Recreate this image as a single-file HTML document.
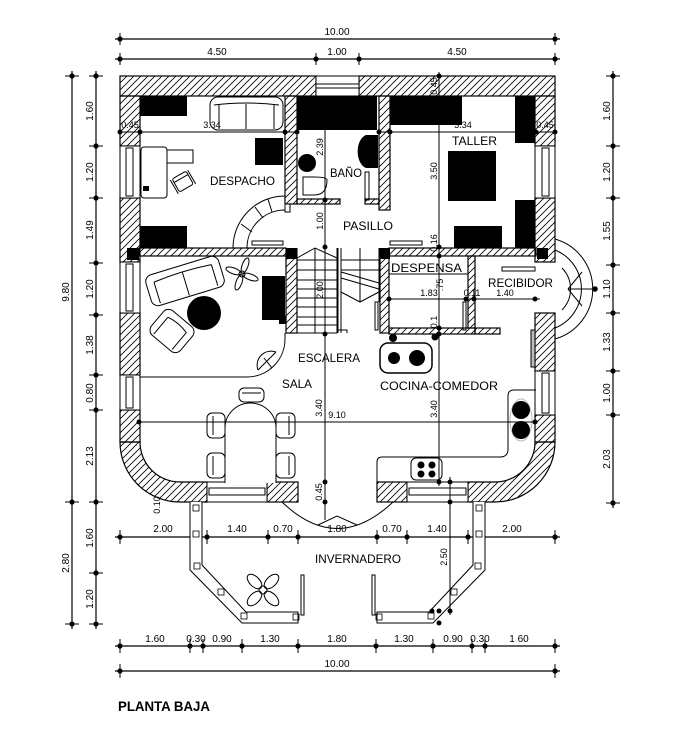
<!DOCTYPE html>
<html><head><meta charset="utf-8"><style>
html,body{margin:0;padding:0;background:#fff;}
svg{display:block;}
text{font-family:"Liberation Sans",sans-serif;fill:#000;}
.d{font-size:10px;}
.r{font-size:12px;}
</style></head><body>
<svg width="700" height="747" viewBox="0 0 700 747" xmlns="http://www.w3.org/2000/svg">
<defs>
<pattern id="h" patternUnits="userSpaceOnUse" width="7" height="7">
<path d="M-1,8 L8,-1 M-1,1 L1,-1 M6,8 L8,6" stroke="#000" stroke-width="0.8"/>
</pattern>
</defs>
<rect width="700" height="747" fill="#fff"/>

<!-- ============ DIMENSIONS ============ -->
<g stroke="#000" stroke-width="1.2" fill="none">
<line x1="115" y1="39" x2="560" y2="39"/>
<line x1="115" y1="59" x2="560" y2="59"/>
<line x1="72" y1="71" x2="72" y2="629"/>
<line x1="96" y1="71" x2="96" y2="629"/>
<line x1="613" y1="71" x2="613" y2="508"/>
<line x1="115" y1="537" x2="560" y2="537"/>
<line x1="115" y1="646" x2="560" y2="646"/>
<line x1="115" y1="671" x2="560" y2="671"/>
</g>
<g stroke="#000" stroke-width="1">
<path d="M120,33V45M555,33V45M120,53V65M316,53V65M359,53V65M555,53V65"/>
<path d="M65,76H79M65,502H79M65,624H79"/>
<path d="M89,76H103M89,146H103M89,198H103M89,263H103M89,315H103M89,375H103M89,410H103M89,502H103M89,573H103M89,624H103"/>
<path d="M606,76H620M606,146H620M606,198H620M606,265H620M606,313H620M606,371H620M606,415H620M606,503H620"/>
<path d="M120,530V544M207,530V544M268,530V544M298,530V544M377,530V544M407,530V544M468,530V544M555,530V544"/>
<path d="M120,639V653M190,639V653M203,639V653M242,639V653M298,639V653M376,639V653M433,639V653M472,639V653M485,639V653M555,639V653"/>
<path d="M120,664V678M555,664V678"/>
</g>
<g fill="#000">
<circle cx="120" cy="39" r="2.6"/><circle cx="555" cy="39" r="2.6"/>
<circle cx="120" cy="59" r="2.6"/><circle cx="316" cy="59" r="2.6"/><circle cx="359" cy="59" r="2.6"/><circle cx="555" cy="59" r="2.6"/>
<circle cx="72" cy="76" r="2.6"/><circle cx="72" cy="502" r="2.6"/><circle cx="72" cy="624" r="2.6"/>
<circle cx="96" cy="76" r="2.6"/><circle cx="96" cy="146" r="2.6"/><circle cx="96" cy="198" r="2.6"/><circle cx="96" cy="263" r="2.6"/><circle cx="96" cy="315" r="2.6"/><circle cx="96" cy="375" r="2.6"/><circle cx="96" cy="410" r="2.6"/><circle cx="96" cy="502" r="2.6"/><circle cx="96" cy="573" r="2.6"/><circle cx="96" cy="624" r="2.6"/>
<circle cx="613" cy="76" r="2.6"/><circle cx="613" cy="146" r="2.6"/><circle cx="613" cy="198" r="2.6"/><circle cx="613" cy="265" r="2.6"/><circle cx="613" cy="313" r="2.6"/><circle cx="613" cy="371" r="2.6"/><circle cx="613" cy="415" r="2.6"/><circle cx="613" cy="503" r="2.6"/>
<circle cx="120" cy="537" r="2.6"/><circle cx="207" cy="537" r="2.6"/><circle cx="268" cy="537" r="2.6"/><circle cx="298" cy="537" r="2.6"/><circle cx="377" cy="537" r="2.6"/><circle cx="407" cy="537" r="2.6"/><circle cx="468" cy="537" r="2.6"/><circle cx="555" cy="537" r="2.6"/>
<circle cx="120" cy="646" r="2.6"/><circle cx="190" cy="646" r="2.6"/><circle cx="203" cy="646" r="2.6"/><circle cx="242" cy="646" r="2.6"/><circle cx="298" cy="646" r="2.6"/><circle cx="376" cy="646" r="2.6"/><circle cx="433" cy="646" r="2.6"/><circle cx="472" cy="646" r="2.6"/><circle cx="485" cy="646" r="2.6"/><circle cx="555" cy="646" r="2.6"/>
<circle cx="120" cy="671" r="2.6"/><circle cx="555" cy="671" r="2.6"/>
</g>

<g class="d" text-anchor="middle">
<text x="337" y="35">10.00</text>
<text x="217" y="55">4.50</text><text x="337" y="55">1.00</text><text x="457" y="55">4.50</text>
<text x="163" y="532">2.00</text><text x="237" y="532">1.40</text><text x="283" y="532">0.70</text><text x="337" y="532">1.80</text><text x="392" y="532">0.70</text><text x="437" y="532">1.40</text><text x="512" y="532">2.00</text>
<text x="155" y="642">1.60</text><text x="196" y="642">0.30</text><text x="222" y="642">0.90</text><text x="270" y="642">1.30</text><text x="337" y="642">1.80</text><text x="404" y="642">1.30</text><text x="453" y="642">0.90</text><text x="480" y="642">0.30</text><text x="519" y="642">1 60</text>
<text x="337" y="667">10.00</text>
<text transform="translate(69,292) rotate(-90)">9.80</text>
<text transform="translate(69,563) rotate(-90)">2.80</text>
<text transform="translate(93,111) rotate(-90)">1.60</text>
<text transform="translate(93,172) rotate(-90)">1.20</text>
<text transform="translate(93,230) rotate(-90)">1.49</text>
<text transform="translate(93,289) rotate(-90)">1.20</text>
<text transform="translate(93,345) rotate(-90)">1.38</text>
<text transform="translate(93,393) rotate(-90)">0.80</text>
<text transform="translate(93,456) rotate(-90)">2.13</text>
<text transform="translate(93,538) rotate(-90)">1.60</text>
<text transform="translate(93,599) rotate(-90)">1.20</text>
<text transform="translate(610,111) rotate(-90)">1.60</text>
<text transform="translate(610,172) rotate(-90)">1.20</text>
<text transform="translate(610,231) rotate(-90)">1.55</text>
<text transform="translate(610,289) rotate(-90)">1.10</text>
<text transform="translate(610,342) rotate(-90)">1.33</text>
<text transform="translate(610,393) rotate(-90)">1.00</text>
<text transform="translate(610,459) rotate(-90)">2.03</text>
</g>

<!-- ============ WALLS ============ -->
<g fill="url(#h)" stroke="#000" stroke-width="1.2">
<rect x="120" y="76" width="196" height="20"/>
<rect x="359" y="76" width="196" height="20"/>
<rect x="120" y="96" width="20" height="50"/>
<rect x="120" y="198" width="20" height="64"/>
<rect x="120" y="313" width="20" height="62"/>
<rect x="120" y="410" width="20" height="32"/>
<path d="M120,442 L140,442 A40,40 0 0 0 180,482 L207,482 L207,502 L180,502 A60,60 0 0 1 120,442 Z"/>
<rect x="267" y="482" width="31" height="20"/>
<rect x="377" y="482" width="30" height="20"/>
<path d="M468,482 L495,482 A40,40 0 0 0 535,442 L555,442 A60,60 0 0 1 495,502 L468,502 Z"/>
<rect x="535" y="96" width="20" height="50"/>
<rect x="535" y="198" width="20" height="64"/>
<rect x="535" y="313" width="20" height="58"/>
<rect x="535" y="415" width="20" height="27"/>
<rect x="285" y="96" width="12" height="108"/>
<rect x="379" y="96" width="11" height="114"/>
<rect x="297" y="199" width="43" height="5"/>
<rect x="365" y="199" width="14" height="5"/>
<rect x="139" y="248" width="147" height="8"/>
<rect x="286" y="256" width="11" height="77"/>
<rect x="389" y="248" width="147" height="8"/>
<rect x="380" y="256" width="9" height="77"/>
<rect x="389" y="328" width="86" height="6"/>
<rect x="468" y="256" width="7" height="72"/>
<rect x="475" y="328" width="25" height="6"/>
</g>
<rect x="285" y="204" width="5" height="8" fill="#fff" stroke="#000"/>
<g fill="#fff" stroke="#000" stroke-width="1">
<rect x="316" y="76" width="43" height="20"/>
<line x1="316" y1="84" x2="359" y2="84"/><line x1="316" y1="88" x2="359" y2="88"/>
<rect x="120" y="146" width="20" height="52"/><rect x="126" y="148" width="7" height="48"/>
<rect x="120" y="262" width="20" height="51"/><rect x="126" y="264" width="7" height="47"/>
<rect x="120" y="375" width="20" height="35"/><rect x="126" y="377" width="7" height="31"/>
<rect x="535" y="146" width="20" height="52"/><rect x="542" y="148" width="7" height="48"/>
<rect x="535" y="371" width="20" height="44"/><rect x="542" y="373" width="7" height="40"/>
<rect x="207" y="482" width="60" height="20"/><rect x="209" y="488" width="56" height="7"/>
<rect x="407" y="482" width="61" height="20"/><rect x="409" y="488" width="57" height="7"/>
</g>
<g fill="#000">
<rect x="127" y="248" width="12" height="12"/>
<rect x="286" y="248" width="11" height="11"/>
<rect x="379" y="248" width="11" height="11"/>
<rect x="537" y="248" width="11" height="11"/>
</g>

<!-- ============ FURNITURE ============ -->
<g fill="#000">
<rect x="140" y="96" width="47" height="20"/>
<rect x="140" y="226" width="47" height="22"/>
<rect x="255" y="138" width="28" height="27"/>
<rect x="297" y="96" width="80" height="34"/>
<rect x="390" y="96" width="72" height="29"/>
<rect x="515" y="96" width="20" height="47"/>
<rect x="448" y="151" width="48" height="50"/>
<rect x="515" y="200" width="20" height="48"/>
<rect x="454" y="226" width="48" height="22"/>
<rect x="262" y="276" width="23" height="44"/>
<rect x="279" y="316" width="7" height="8"/>
<circle cx="307" cy="163" r="9"/>
<path d="M378,135 L366,135 A11,17 0 0 0 366,168 L378,168 Z"/>
<circle cx="204" cy="313" r="17"/>
<rect x="143" y="186" width="6" height="5"/>
</g>

<g fill="none" stroke="#000" stroke-width="1">
<rect x="210" y="97" width="73" height="33" rx="8" fill="#fff"/>
<path d="M214,105 Q246,101 279,105 M219,105 L219,129 M274,105 L274,129 M246,104 L246,129"/>
<rect x="141" y="147" width="26" height="51" rx="3"/>
<rect x="167" y="150" width="26" height="13"/>
<g transform="translate(183,182) rotate(-30)"><rect x="-8" y="-8" width="16" height="15" rx="2"/><path d="M-10,-8 L-10,8 M10,-8 L10,8 M-8,-4 H8"/></g>
<path d="M233,248 A52,52 0 0 1 285,196"/>
<path d="M247,248 A38,38 0 0 1 285,210"/>
<path d="M241,224 L252,232 M255,207 L263,218 M268,199 L272,212"/>
<path d="M327,180 Q327,195 314,195 L303,195 L303,177 L314,177 Q327,177 327,180 Z"/>
<rect x="365" y="172" width="4" height="28"/>
<rect x="252" y="241" width="31" height="4"/>
<rect x="390" y="241" width="32" height="4"/>
<rect x="502" y="267" width="33" height="4"/>
<rect x="375" y="302" width="3" height="28"/>
<rect x="463" y="302" width="3" height="28"/>
<rect x="531" y="330" width="4" height="37" fill="#bbb"/>
<line x1="389" y1="274" x2="468" y2="274"/>
<path d="M297,248 V333 M315,248 V333 M337,248 V333 M297,258 L315,248 L337,258"/>
<path d="M297,260 H337 M297,270 H337 M297,280 H337 M297,289 H337 M297,298 H337 M297,307 H337 M297,317 H337 M297,325 H337 M297,333 H337 M337,330 H347 V333"/>
<path d="M338,248 V333 M341,248 V333 M360,248 V302 M379,248 V302 M341,260 H379 M341,270 H379 M341,272 L379,283 M341,278 L379,289 M341,292 L360,302 L379,292"/>
<path d="M140,377 L247,377 A38,38 0 0 0 285,339 L285,333"/>
<path d="M258,370 A14,14 0 0 1 276,352 M258,370 L276,352 M264,358 L272,368"/>
<g transform="translate(185,281) rotate(-17)">
<rect x="-38" y="-16" width="76" height="32" rx="7" fill="#fff"/>
<path d="M-30,-8 Q0,-11 30,-8 M-30,-8 V14 M30,-8 V14 M0,-9 V15"/>
</g>
<g transform="translate(172,331) rotate(40)">
<rect x="-19" y="-16" width="38" height="32" rx="7" fill="#fff"/>
<path d="M-12,-8 Q0,-11 12,-8 M-12,-8 V14 M12,-8 V14"/>
</g>
<g transform="translate(242,274)">
<ellipse cx="9" cy="0" rx="8" ry="3" transform="rotate(20)"/>
<ellipse cx="9" cy="0" rx="8" ry="3" transform="rotate(110)"/>
<ellipse cx="9" cy="0" rx="8" ry="3" transform="rotate(200)"/>
<ellipse cx="9" cy="0" rx="8" ry="3" transform="rotate(290)"/>
<circle r="3"/>
</g>
<path d="M225,483 L225,428 A25.5,25 0 0 1 276,428 L276,483" fill="#fff"/>
<rect x="239" y="388" width="25" height="14" rx="5"/><line x1="242" y1="393" x2="261" y2="393"/>
<rect x="207" y="413" width="18" height="25" rx="5"/><line x1="213" y1="416" x2="213" y2="435"/>
<rect x="207" y="453" width="18" height="25" rx="5"/><line x1="213" y1="456" x2="213" y2="475"/>
<rect x="276" y="413" width="19" height="25" rx="5"/><line x1="289" y1="416" x2="289" y2="435"/>
<rect x="276" y="453" width="19" height="25" rx="5"/><line x1="289" y1="456" x2="289" y2="475"/>
<rect x="380" y="343" width="52" height="30" rx="8" stroke-width="1.5"/>
<path d="M377,483 L377,462 Q377,457 382,457 L500,457 Q508,457 508,449 L508,396 Q508,390 514,390 L536,390"/>
<rect x="411" y="458" width="31" height="22" rx="5"/>
<ellipse cx="521" cy="420" rx="11" ry="21" stroke="#bbb"/>
<path d="M555,239 A52,52 0 0 1 555,339"/>
<path d="M555,250 A42,42 0 0 1 555,328"/>
<path d="M562,268 A30,30 0 0 1 562,310"/>
<path d="M568,289 L582,272 M568,289 L582,306 M568,289 L595,289"/>
<path d="M282,502 Q337,555 393,502"/>
<path d="M318,525 L337,516 L357,525"/>
<path d="M190,502 V570 L242,623 H298 V612 H246 L202,565 V502" fill="#fff"/>
<path d="M485,502 V570 L433,623 H377 V612 H429 L473,565 V502" fill="#fff"/>
<rect x="301" y="575" width="3" height="40" fill="#fff"/>
<rect x="372" y="575" width="3" height="40" fill="#fff"/>
<g stroke-width="0.8">
<rect x="193" y="505" width="6" height="6"/><rect x="193" y="531" width="6" height="6"/><rect x="194" y="563" width="6" height="6"/><rect x="218" y="589" width="6" height="6"/><rect x="241" y="613" width="6" height="6"/><rect x="293" y="614" width="6" height="6"/>
<rect x="476" y="505" width="6" height="6"/><rect x="476" y="531" width="6" height="6"/><rect x="475" y="563" width="6" height="6"/><rect x="451" y="589" width="6" height="6"/><rect x="428" y="613" width="6" height="6"/><rect x="376" y="614" width="6" height="6"/>
</g>
<g transform="translate(263,590)">
<ellipse cx="12" cy="0" rx="9" ry="5" transform="rotate(45)"/>
<ellipse cx="12" cy="0" rx="9" ry="5" transform="rotate(135)"/>
<ellipse cx="12" cy="0" rx="9" ry="5" transform="rotate(225)"/>
<ellipse cx="12" cy="0" rx="9" ry="5" transform="rotate(315)"/>
<circle r="4"/>
</g>
</g>
<g fill="#000">
<circle cx="394" cy="358" r="6"/><circle cx="417" cy="358" r="8"/>
<circle cx="393" cy="338" r="4"/><circle cx="435" cy="337" r="3.5"/>
<circle cx="521" cy="410" r="9"/><circle cx="521" cy="430" r="9"/>
<circle cx="421" cy="465" r="3.5"/><circle cx="432" cy="465" r="3.5"/><circle cx="421" cy="474" r="3.5"/><circle cx="432" cy="474" r="3.5"/>
</g>

<!-- ============ INTERIOR DIM LINES ============ -->
<g stroke="#000" stroke-width="1" fill="none">
<line x1="120" y1="132" x2="297" y2="132"/>
<line x1="379" y1="132" x2="555" y2="132"/>
<line x1="325" y1="130" x2="325" y2="520"/>
<line x1="439" y1="72" x2="439" y2="486"/>
<line x1="450" y1="477" x2="450" y2="615"/>
<line x1="389" y1="299" x2="540" y2="299"/>
<line x1="139" y1="422" x2="535" y2="422"/>
</g>
<g fill="#000">
<circle cx="120" cy="132" r="2.5"/><circle cx="140" cy="132" r="2.5"/><circle cx="285" cy="132" r="2.5"/><circle cx="297" cy="132" r="2.5"/>
<circle cx="379" cy="132" r="2.5"/><circle cx="390" cy="132" r="2.5"/><circle cx="536" cy="132" r="2.5"/><circle cx="555" cy="132" r="2.5"/>
<circle cx="325" cy="200" r="2.5"/><circle cx="325" cy="247" r="2.5"/><circle cx="325" cy="334" r="2.5"/><circle cx="325" cy="482" r="2.5"/><circle cx="325" cy="502" r="2.5"/>
<circle cx="439" cy="76" r="2.5"/><circle cx="439" cy="247" r="2.5"/><circle cx="439" cy="256" r="2.5"/><circle cx="439" cy="328" r="2.5"/><circle cx="439" cy="334" r="2.5"/><circle cx="439" cy="482" r="2.5"/>
<circle cx="450" cy="482" r="2.5"/><circle cx="450" cy="502" r="2.5"/><circle cx="450" cy="611" r="2.5"/><circle cx="439" cy="611" r="2.5"/><circle cx="439" cy="623" r="2.5"/><circle cx="432" cy="611" r="2.5"/>
<circle cx="389" cy="299" r="2.5"/><circle cx="466" cy="299" r="2.5"/><circle cx="474" cy="299" r="2.5"/><circle cx="535" cy="299" r="2.5"/>
<circle cx="139" cy="422" r="2.5"/><circle cx="535" cy="422" r="2.5"/>
<circle cx="595" cy="289" r="2.8"/>
</g>
<g class="d" text-anchor="middle" style="font-size:9px">
<text x="130" y="128">0.45</text><text x="212" y="128">3.34</text>
<text x="463" y="128">3.34</text><text x="545" y="128">0.45</text>
<text x="429" y="296">1.83</text><text x="472" y="296">0.11</text><text x="505" y="296">1.40</text>
<text x="337" y="418">9.10</text>
<text transform="translate(323,147) rotate(-90)">2.39</text>
<text transform="translate(323,221) rotate(-90)">1.00</text>
<text transform="translate(323,290) rotate(-90)">2.00</text>
<text transform="translate(322,408) rotate(-90)">3.40</text>
<text transform="translate(322,492) rotate(-90)">0.45</text>
<text transform="translate(437,171) rotate(-90)">3.50</text>
<text transform="translate(437,409) rotate(-90)">3.40</text>
<text transform="translate(437,86) rotate(-90)">0.45</text>
<text transform="translate(437,243) rotate(-90)">0.16</text>
<text transform="translate(443,285) rotate(-90)">.75</text>
<text transform="translate(437,322) rotate(-90)">0.1</text>
<text transform="translate(447,557) rotate(-90)">2.50</text>
<text transform="translate(160,505) rotate(-90)">0.10</text>
</g>

<!-- ============ ROOM LABELS ============ -->
<g class="r">
<text x="210" y="185" textLength="65" lengthAdjust="spacingAndGlyphs">DESPACHO</text>
<text x="330" y="177" textLength="32" lengthAdjust="spacingAndGlyphs">BAÑO</text>
<text x="452" y="145" textLength="45" lengthAdjust="spacingAndGlyphs">TALLER</text>
<text x="343" y="230" textLength="50" lengthAdjust="spacingAndGlyphs">PASILLO</text>
<text x="391" y="272" textLength="71" lengthAdjust="spacingAndGlyphs">DESPENSA</text>
<text x="488" y="287" textLength="65" lengthAdjust="spacingAndGlyphs">RECIBIDOR</text>
<text x="298" y="362" textLength="62" lengthAdjust="spacingAndGlyphs">ESCALERA</text>
<text x="282" y="388" textLength="30" lengthAdjust="spacingAndGlyphs">SALA</text>
<text x="380" y="390" textLength="118" lengthAdjust="spacingAndGlyphs">COCINA-COMEDOR</text>
<text x="315" y="563" textLength="86" lengthAdjust="spacingAndGlyphs">INVERNADERO</text>
</g>
<text x="118" y="711" font-size="14" font-weight="bold" textLength="92" lengthAdjust="spacingAndGlyphs">PLANTA BAJA</text>
</svg>
</body></html>
